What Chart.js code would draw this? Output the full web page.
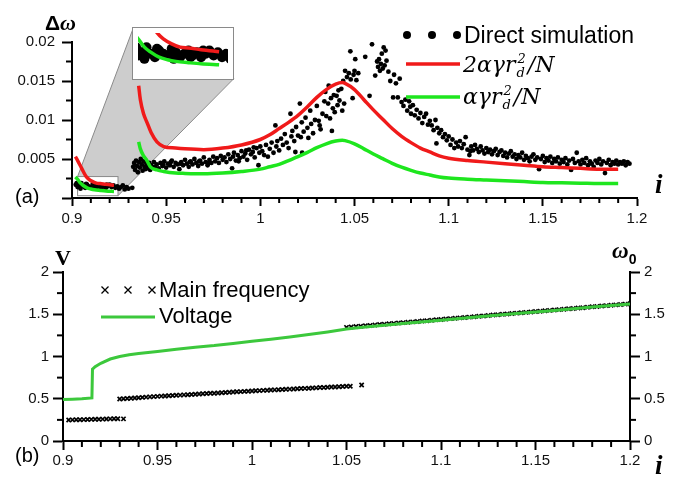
<!DOCTYPE html>
<html>
<head>
<meta charset="utf-8">
<script src="https://cdn.jsdelivr.net/npm/chart.js@4.4.1/dist/chart.umd.min.js"></script>
<style>
  body { margin: 0; background: #fff; }
  #wrap { position: relative; width: 685px; height: 477px; overflow: hidden; }
  canvas { position: absolute; }
  #inset { background: #fff; outline: 1px solid #8a8a8a; }
</style>
</head>
<body>
<div id="wrap">
  <canvas id="top" width="685" height="230" style="left:0;top:0"></canvas>
  <canvas id="bottom" width="685" height="247" style="left:0;top:230px"></canvas>
  <canvas id="inset"></canvas>
</div>
<script>
// tick labels
var iTicks = [0.9, 0.95, 1, 1.05, 1.1, 1.15, 1.2];
var dwTicks = [0, 0.005, 0.01, 0.015, 0.02];
var vTicks = [0, 0.5, 1, 1.5, 2];

// (a) direct simulation, [i, dw]
var simPoints = [
  [0.902,0.0017],[0.9025,0.0019],[0.903,0.0014],[0.904,0.0016],[0.9045,0.0012],[0.905,0.0019],[0.906,0.0015],[0.907,0.0013],
  [0.9075,0.0018],[0.908,0.0017],[0.909,0.0015],[0.910,0.0014],[0.911,0.0018],[0.9115,0.0012],[0.912,0.0016],[0.913,0.0013],
  [0.914,0.0015],[0.915,0.0017],[0.9155,0.0013],[0.916,0.0014],[0.917,0.0016],[0.918,0.0013],[0.9185,0.0017],[0.919,0.0015],
  [0.920,0.0017],[0.921,0.0014],[0.922,0.0016],[0.923,0.0013],[0.924,0.0015],[0.925,0.0012],[0.926,0.0014],[0.927,0.0016],
  [0.928,0.0011],[0.929,0.0014],[0.930,0.0012],[0.932,0.0013],
  [0.9325,0.0040],[0.933,0.0045],[0.9335,0.0036],[0.934,0.0048],[0.9345,0.0041],[0.935,0.0033],[0.9355,0.0046],[0.936,0.0039],
  [0.9365,0.0050],[0.937,0.0043],[0.9375,0.0035],[0.938,0.0047],[0.9385,0.0040],[0.939,0.0037],[0.9395,0.0044],[0.940,0.0041],
  [0.9405,0.0038],[0.941,0.0045],[0.9415,0.0036],[0.942,0.0042],[0.943,0.0039],[0.9435,0.0046],[0.944,0.0040],[0.945,0.0043],
  [0.946,0.0038],[0.947,0.0045],[0.948,0.0041],[0.9485,0.0043],[0.949,0.0047],[0.950,0.0039],[0.951,0.0044],[0.952,0.0042],
  [0.9525,0.0046],[0.953,0.0048],[0.954,0.0040],[0.955,0.0045],[0.956,0.0043],[0.957,0.0037],[0.9575,0.0044],[0.958,0.0046],
  [0.959,0.0042],[0.960,0.0049],[0.961,0.0044],[0.962,0.0040],[0.9625,0.0046],[0.963,0.0047],[0.964,0.0043],[0.965,0.0050],
  [0.966,0.0045],[0.967,0.0041],[0.9675,0.0047],[0.968,0.0048],[0.969,0.0044],[0.970,0.0052],[0.971,0.0046],[0.972,0.0042],
  [0.9725,0.0045],[0.973,0.0049],[0.974,0.0045],[0.975,0.0053],
  [0.976,0.0047],[0.977,0.0051],[0.978,0.0045],[0.979,0.0054],[0.980,0.0049],[0.981,0.0052],[0.982,0.0046],[0.983,0.0056],
  [0.984,0.0050],[0.985,0.0038],[0.9855,0.0053],[0.986,0.0058],[0.987,0.0048],[0.988,0.0055],[0.9885,0.0047],[0.989,0.0051],
  [0.990,0.0060],[0.991,0.0053],[0.992,0.0057],[0.9925,0.0061],[0.993,0.0049],[0.994,0.0062],[0.995,0.0056],[0.996,0.0059],
  [0.9965,0.0065],[0.997,0.0052],[0.998,0.0064],[0.999,0.0042],[0.9995,0.0058],[1.000,0.0066],[1.001,0.0060],[1.002,0.0055],
  [1.003,0.0068],[1.004,0.0053],[1.005,0.0063],[1.006,0.0071],[1.007,0.0058],[1.008,0.0093],[1.0085,0.0066],[1.009,0.0073],
  [1.010,0.0061],
  [1.011,0.0076],[1.012,0.0068],[1.013,0.0082],[1.014,0.0071],[1.015,0.0064],[1.016,0.0108],[1.0165,0.0079],[1.017,0.0086],
  [1.018,0.0073],[1.0186,0.0059],[1.019,0.0091],[1.020,0.0080],[1.021,0.0121],[1.0215,0.0078],[1.022,0.0097],[1.0222,0.0058],
  [1.023,0.0085],[1.024,0.0103],[1.025,0.0090],[1.0255,0.0077],[1.0265,0.0112],[1.027,0.0095],[1.028,0.0083],[1.029,0.0100],
  [1.030,0.0118],[1.031,0.0099],[1.0315,0.0093],[1.032,0.0088],[1.033,0.0108],[1.034,0.0124],[1.0345,0.0136],[1.035,0.0105],
  [1.036,0.0121],[1.0363,0.0144],[1.037,0.0102],[1.0375,0.0128],[1.038,0.0086],[1.0385,0.0115],[1.039,0.0132],[1.0395,0.0110],
  [1.0405,0.0131],[1.041,0.0119],[1.0415,0.0138],[1.042,0.0125],[1.043,0.0140],[1.0435,0.0112],[1.044,0.0150],[1.0445,0.0121],
  [1.045,0.0163],
  [1.046,0.0155],[1.047,0.0160],[1.0478,0.0188],[1.048,0.0152],[1.049,0.0128],[1.0495,0.0158],[1.050,0.0163],[1.0504,0.0178],
  [1.051,0.0151],[1.052,0.0160],[1.0557,0.0181],[1.058,0.0131],[1.0593,0.0197],[1.061,0.0157],[1.062,0.0175],[1.0625,0.0168],
  [1.063,0.0178],[1.0635,0.0163],[1.064,0.0172],[1.0645,0.0185],[1.065,0.0166],[1.0655,0.0193],[1.066,0.0170],[1.0665,0.0189],
  [1.067,0.0176],[1.068,0.0162],[1.069,0.0150],[1.0705,0.0129],[1.071,0.0158],[1.072,0.0147],[1.073,0.0129],[1.074,0.0153],
  [1.075,0.0123],
  [1.076,0.0118],[1.077,0.0126],[1.078,0.0112],[1.079,0.0124],[1.0796,0.0117],[1.080,0.0108],[1.081,0.0119],[1.082,0.0106],
  [1.083,0.0113],[1.084,0.0102],[1.085,0.0109],[1.086,0.0096],[1.087,0.0104],[1.088,0.0108],[1.089,0.0094],[1.090,0.0099],
  [1.091,0.0093],[1.092,0.0087],[1.093,0.0100],[1.0935,0.0070],[1.094,0.0090],[1.095,0.0083],[1.096,0.0087],[1.097,0.0078],
  [1.098,0.0082],[1.099,0.0074],[1.100,0.0079],[1.101,0.0068],[1.102,0.0075],[1.103,0.0064],[1.104,0.0071],[1.105,0.0066],
  [1.106,0.0073],[1.107,0.0064],[1.108,0.0069],[1.109,0.0078],[1.110,0.0062],[1.111,0.0055],[1.1115,0.0060],
  [1.112,0.0066],[1.113,0.0061],[1.114,0.0068],[1.115,0.0063],[1.116,0.0059],[1.117,0.0066],[1.118,0.0061],[1.119,0.0057],
  [1.120,0.0064],[1.121,0.0059],[1.122,0.0062],[1.123,0.0056],[1.124,0.0060],[1.125,0.0063],[1.126,0.0055],[1.127,0.0059],
  [1.128,0.0061],[1.129,0.0054],[1.130,0.0058],[1.131,0.0052],[1.132,0.0057],[1.133,0.0060],[1.134,0.0053],[1.135,0.0056],
  [1.136,0.0050],[1.137,0.0055],[1.138,0.0052],[1.139,0.0058],[1.140,0.0049],[1.141,0.0054],[1.142,0.0051],[1.143,0.0047],
  [1.144,0.0053],[1.145,0.0056],[1.146,0.0049],[1.147,0.0052],[1.148,0.0037],[1.149,0.0050],[1.150,0.0054],[1.151,0.0046],
  [1.152,0.0051],[1.153,0.0048],[1.154,0.0053],[1.155,0.0045],[1.156,0.0050],[1.157,0.0047],[1.158,0.0052],[1.159,0.0044],
  [1.160,0.0049],[1.161,0.0046],[1.162,0.0051],[1.163,0.0043],[1.164,0.0048],[1.165,0.0036],[1.166,0.0050],[1.167,0.0045],
  [1.168,0.0058],[1.169,0.0047],[1.170,0.0043],[1.171,0.0049],[1.172,0.0045],[1.173,0.0051],[1.174,0.0042],[1.175,0.0047],
  [1.176,0.0044],[1.177,0.0040],[1.178,0.0048],[1.179,0.0045],[1.180,0.0050],[1.181,0.0043],[1.182,0.0047],[1.183,0.0032],
  [1.184,0.0045],[1.185,0.0049],[1.186,0.0042],[1.187,0.0046],[1.188,0.0044],[1.189,0.0048],[1.190,0.0043],[1.191,0.0046],
  [1.192,0.0044],[1.193,0.0047],[1.194,0.0042],[1.195,0.0046],[1.196,0.0044]
];

// 2*alpha*gamma*r_d^2/N
var red1 = [[0.9018,0.0053],[0.903,0.0048],[0.9045,0.0041],[0.906,0.0034],[0.9074,0.0028],[0.909,0.0024],[0.911,0.0021],
  [0.913,0.0019],[0.915,0.00185],[0.918,0.00175],[0.9223,0.00163]];
var red2 = [[0.9354,0.0144],[0.9363,0.0126],[0.938,0.0108],[0.9398,0.0097],[0.942,0.0084],[0.9451,0.0072],[0.9487,0.0066],
  [0.955,0.0064],[0.96,0.0063],[0.97,0.0062],[0.98,0.0064],[0.99,0.0068],[1.0,0.0075],[1.005,0.0081],[1.01,0.0089],
  [1.015,0.0097],[1.02,0.0106],[1.025,0.0117],[1.03,0.0129],[1.035,0.0139],[1.04,0.0146],[1.0435,0.0148],[1.045,0.0147],
  [1.05,0.0139],[1.055,0.0126],[1.06,0.0113],[1.065,0.0101],[1.07,0.0089],[1.075,0.0079],[1.08,0.0071],[1.085,0.0064],
  [1.09,0.0059],[1.095,0.0054],[1.1,0.0051],[1.11,0.0048],[1.12,0.0046],[1.13,0.0044],[1.14,0.0042],[1.15,0.0040],
  [1.16,0.0039],[1.17,0.0038],[1.18,0.0037],[1.19,0.0037]];
// alpha*gamma*r_d^2/N
var green1 = [[0.9018,0.0027],[0.903,0.0024],[0.9045,0.0019],[0.906,0.0016],[0.908,0.0013],[0.910,0.00115],[0.912,0.00105],
  [0.915,0.00097],[0.918,0.0009],[0.9223,0.00084]];
var green2 = [[0.9354,0.0072],[0.9363,0.0063],[0.938,0.0054],[0.9398,0.0048],[0.9416,0.0040],[0.9451,0.0036],[0.9487,0.0034],
  [0.955,0.0032],[0.96,0.00315],[0.97,0.0031],[0.98,0.0032],[0.99,0.0034],[1.0,0.0037],[1.005,0.0040],[1.01,0.0043],
  [1.015,0.0048],[1.02,0.0053],[1.025,0.00585],[1.03,0.00645],[1.035,0.00695],[1.04,0.0073],[1.0435,0.0074],[1.045,0.00735],
  [1.05,0.00695],[1.055,0.0063],[1.06,0.00565],[1.065,0.00505],[1.07,0.00445],[1.075,0.00395],[1.08,0.00355],[1.085,0.0032],
  [1.09,0.00295],[1.095,0.0027],[1.1,0.00255],[1.11,0.0024],[1.12,0.0023],[1.13,0.0022],[1.14,0.0021],[1.15,0.0020],
  [1.16,0.00195],[1.17,0.0019],[1.18,0.00185],[1.19,0.00185]];

// (b) main frequency, [i, w0]
var freq1 = [[0.903,0.248],[0.905,0.250],[0.907,0.251],[0.909,0.252],[0.911,0.253],[0.913,0.254],[0.915,0.256],[0.917,0.257],
  [0.919,0.258],[0.921,0.259],[0.923,0.261],[0.925,0.262],[0.927,0.263],[0.929,0.264],[0.932,0.262]];
var freq2 = [[0.930,0.497],[0.932,0.500],[0.934,0.503],[0.936,0.506],[0.938,0.509],[0.940,0.512],[0.942,0.516],[0.944,0.519],
  [0.946,0.522],[0.948,0.525],[0.950,0.528],[0.952,0.531],[0.954,0.533],[0.956,0.536],[0.958,0.538],[0.960,0.541],
  [0.962,0.543],[0.964,0.546],[0.966,0.548],[0.968,0.551],[0.970,0.554],[0.972,0.556],[0.974,0.559],[0.976,0.561],
  [0.978,0.564],[0.980,0.566],[0.982,0.569],[0.984,0.572],[0.986,0.574],[0.988,0.577],[0.990,0.579],[0.992,0.582],
  [0.994,0.584],[0.996,0.587],[0.998,0.589],[1.000,0.592],[1.002,0.594],[1.004,0.596],[1.006,0.599],[1.008,0.601],
  [1.010,0.603],[1.012,0.605],[1.014,0.607],[1.016,0.610],[1.018,0.612],[1.020,0.614],[1.022,0.616],[1.024,0.618],
  [1.026,0.621],[1.028,0.623],[1.030,0.625],[1.032,0.627],[1.034,0.629],[1.036,0.632],[1.038,0.634],[1.040,0.636],
  [1.042,0.638],[1.044,0.640],[1.046,0.643],[1.048,0.645],[1.050,0.647],[1.052,0.649],[1.058,0.662]];
var freq3 = [[1.0500,1.345],[1.0525,1.350],[1.0550,1.354],[1.0575,1.359],[1.0600,1.364],[1.0625,1.368],[1.0650,1.373],
  [1.0675,1.378],[1.0700,1.382],[1.0725,1.387],[1.0750,1.392],[1.0775,1.396],[1.0800,1.401],[1.0825,1.406],[1.0850,1.410],
  [1.0875,1.415],[1.0900,1.420],[1.0925,1.424],[1.0950,1.429],[1.0975,1.434],[1.1000,1.438],[1.1025,1.443],[1.1050,1.448],
  [1.1075,1.452],[1.1100,1.457],[1.1125,1.462],[1.1150,1.466],[1.1175,1.471],[1.1200,1.476],[1.1225,1.480],[1.1250,1.485],
  [1.1275,1.490],[1.1300,1.494],[1.1325,1.499],[1.1350,1.504],[1.1375,1.508],[1.1400,1.513],[1.1425,1.518],[1.1450,1.522],
  [1.1475,1.527],[1.1500,1.532],[1.1525,1.536],[1.1550,1.541],[1.1575,1.546],[1.1600,1.550],[1.1625,1.555],[1.1650,1.560],
  [1.1675,1.564],[1.1700,1.569],[1.1725,1.574],[1.1750,1.578],[1.1775,1.583],[1.1800,1.588],[1.1825,1.592],[1.1850,1.597],
  [1.1875,1.602],[1.1900,1.606],[1.1925,1.611],[1.1950,1.616],[1.1975,1.620],[1.2000,1.625]];
// voltage, [i, V]
var voltage = [[0.9,0.49],[0.905,0.495],[0.91,0.50],[0.9153,0.51],[0.9156,0.85],[0.917,0.88],[0.92,0.92],[0.925,0.97],
  [0.93,1.0],[0.935,1.02],[0.94,1.035],[0.95,1.06],[0.96,1.085],[0.97,1.11],[0.98,1.13],[0.99,1.155],[1.0,1.18],
  [1.01,1.205],[1.02,1.23],[1.03,1.26],[1.04,1.29],[1.05,1.325],[1.06,1.35],[1.08,1.39],[1.1,1.43],[1.12,1.47],
  [1.14,1.51],[1.16,1.545],[1.18,1.585],[1.2,1.62]];

// zoomed region and where its enlarged copy sits, in (a) data units
var zoomBox = {x0: 0.90297, x1: 0.92442, y0: 0.000293, y1: 0.002748};
var insetBox = {x0: 0.93255, x1: 0.98591, y0: 0.015305, y1: 0.021794};

var RED = '#f01a1a', GREEN = '#1ee61e', GREEN_B = '#3cc83c';
var SANS = "'Liberation Sans', Arial, sans-serif";
var SERIF = "'Liberation Serif', 'Times New Roman', serif";
var tickFont = {family: SANS, size: 15};

function pts(a) { return a.map(function (p) { return {x: p[0], y: p[1]}; }); }
function fmt(v) { return String(parseFloat(v.toFixed(4))); }

function axis(pos, list, len, pad, size, hideZero) {
  var o = {
    type: 'linear', position: pos,
    min: list[0], max: list[list.length - 1],
    afterBuildTicks: function (s) { s.ticks = list.map(function (v) { return {value: v}; }); },
    grid: {drawOnChartArea: false, drawTicks: true, tickLength: len, tickWidth: 2, tickColor: '#000', color: '#000'},
    border: {display: true, color: '#000', width: 2},
    ticks: {font: tickFont, color: '#111', padding: pad, maxRotation: 0, autoSkip: false,
      callback: function (v) { return (hideZero && v === 0) ? '' : fmt(v); }}
  };
  if (pos === 'bottom') o.afterFit = function (s) { s.height = size; };
  else o.afterFit = function (s) { s.width = size; };
  return o;
}

function minorTicks(list) {
  return {id: 'minorTicks', afterDraw: function (chart) {
    var ctx = chart.ctx;
    ctx.save(); ctx.strokeStyle = '#000'; ctx.lineWidth = 2;
    list.forEach(function (m) {
      var s = chart.scales[m.id];
      var n = Math.round((s.max - s.min) / m.step);
      for (var k = 0; k <= n; k++) {
        if (k % m.every === 0) continue;
        var p = s.getPixelForValue(s.min + k * m.step);
        ctx.beginPath();
        if (s.position === 'bottom') { ctx.moveTo(p, s.top); ctx.lineTo(p, s.top + m.len); }
        else if (s.position === 'left') { ctx.moveTo(s.right, p); ctx.lineTo(s.right - m.len, p); }
        else { ctx.moveTo(s.left, p); ctx.lineTo(s.left + m.len, p); }
        ctx.stroke();
      }
    });
    ctx.restore();
  }};
}

function txt(ctx, s, x, y, font, align) {
  ctx.font = font; ctx.textAlign = align || 'left'; ctx.textBaseline = 'alphabetic';
  ctx.fillStyle = '#000'; ctx.fillText(s, x, y);
  return ctx.measureText(s).width;
}

function formula(ctx, lead, x, y) {
  var f = "italic 22px 'DejaVu Serif'", fs = "italic 13px 'DejaVu Serif'";
  x += txt(ctx, lead + 'r', x, y, f);
  var w1 = txt(ctx, 'd', x + 1, y + 5, fs);
  var w2 = txt(ctx, '2', x + 2, y - 9, fs);
  x += Math.max(w1, w2 + 1) + 3;
  txt(ctx, '/N', x, y, f);
}

function lineSet(data, color, width, order) {
  return {type: 'line', data: pts(data), borderColor: color, borderWidth: width, pointRadius: 0,
    fill: false, cubicInterpolationMode: 'monotone', order: order};
}

var common = {
  responsive: false, animation: false, events: [],
  plugins: {legend: {display: false}, tooltip: {enabled: false}}
};

// ---------- (a) ----------
var topChart = new Chart(document.getElementById('top'), {
  type: 'scatter',
  data: {datasets: [
    {label: 'Direct simulation', data: pts(simPoints), pointRadius: 2.4, pointBackgroundColor: '#000',
      pointBorderColor: '#000', pointBorderWidth: 0, order: 3},
    lineSet(red1, RED, 3.5, 2), lineSet(red2, RED, 3.5, 2),
    lineSet(green1, GREEN, 3.5, 1), lineSet(green2, GREEN, 3.5, 1)
  ]},
  options: Object.assign({}, common, {
    layout: {padding: {left: 0, right: 48, top: 42, bottom: 0}},
    scales: {
      x: axis('bottom', iTicks, 8, 4, 32, false),
      y: axis('left', dwTicks, 10, 7, 72, true)
    }
  }),
  plugins: [minorTicks([{id: 'x', step: 0.01, every: 5, len: 5}, {id: 'y', step: 0.0025, every: 2, len: 6}]), {
    id: 'zoomShade',
    beforeDatasetsDraw: function (chart) {
      var xs = chart.scales.x, ys = chart.scales.y, ctx = chart.ctx;
      var zx0 = xs.getPixelForValue(zoomBox.x0), zx1 = xs.getPixelForValue(zoomBox.x1);
      var zy0 = ys.getPixelForValue(zoomBox.y0), zy1 = ys.getPixelForValue(zoomBox.y1);
      var ix0 = xs.getPixelForValue(insetBox.x0), ix1 = xs.getPixelForValue(insetBox.x1);
      var iy0 = ys.getPixelForValue(insetBox.y0), iy1 = ys.getPixelForValue(insetBox.y1);
      ctx.save();
      ctx.beginPath();
      ctx.moveTo(ix0, iy1); ctx.lineTo(zx0, zy1); ctx.lineTo(zx0, zy0); ctx.lineTo(zx1, zy0);
      ctx.lineTo(ix1, iy0); ctx.lineTo(ix1, iy1); ctx.closePath();
      ctx.rect(zx0, zy1, zx1 - zx0, zy0 - zy1);
      ctx.fillStyle = '#cdcdcd'; ctx.fill('evenodd');
      ctx.strokeStyle = '#8a8a8a'; ctx.lineWidth = 1;
      ctx.beginPath(); ctx.moveTo(ix0, iy1); ctx.lineTo(zx0, zy1); ctx.stroke();
      ctx.beginPath(); ctx.moveTo(ix1, iy0); ctx.lineTo(zx1, zy0); ctx.stroke();
      ctx.strokeRect(zx0, zy1, zx1 - zx0, zy0 - zy1);
      ctx.restore();
    },
    afterDraw: function (chart) {
      var ctx = chart.ctx;
      var w = txt(ctx, '\u0394', 45, 30, 'bold 21px ' + SANS);
      txt(ctx, '\u03c9', 45 + w, 30, 'italic bold 22px ' + SERIF);
      txt(ctx, '(a)', 15, 203, '20px ' + SANS);
      txt(ctx, 'i', 655, 193, 'italic bold 27px ' + SERIF);
      // legend
      ctx.fillStyle = '#000';
      [407, 432, 457].forEach(function (x) { ctx.beginPath(); ctx.arc(x, 35, 4, 0, Math.PI * 2); ctx.fill(); });
      txt(ctx, 'Direct simulation', 464, 43, '23px ' + SANS);
      ctx.lineWidth = 3.5;
      ctx.strokeStyle = RED; ctx.beginPath(); ctx.moveTo(406, 64); ctx.lineTo(460, 64); ctx.stroke();
      ctx.strokeStyle = GREEN; ctx.beginPath(); ctx.moveTo(406, 97); ctx.lineTo(460, 97); ctx.stroke();
      formula(ctx, '2\u03b1\u03b3', 463, 72);
      formula(ctx, '\u03b1\u03b3', 463, 104);
    }
  }]
});

// enlarged copy of the zoomed region
(function () {
  var xs = topChart.scales.x, ys = topChart.scales.y;
  var L = xs.getPixelForValue(insetBox.x0), R = xs.getPixelForValue(insetBox.x1);
  var T = ys.getPixelForValue(insetBox.y1), B = ys.getPixelForValue(insetBox.y0);
  var c = document.getElementById('inset');
  c.width = Math.round(R - L); c.height = Math.round(B - T);
  c.style.left = Math.round(L) + 'px'; c.style.top = Math.round(T) + 'px';
  new Chart(c, {
    type: 'scatter',
    data: {datasets: [
      {data: pts(simPoints), pointRadius: 5, pointBackgroundColor: '#000', pointBorderColor: '#000',
        pointBorderWidth: 0, order: 3},
      lineSet(red1, RED, 3.5, 2), lineSet(green1, GREEN, 3.5, 1)
    ]},
    options: Object.assign({}, common, {
      layout: {padding: 0},
      scales: {
        x: {type: 'linear', display: false, min: zoomBox.x0, max: zoomBox.x1},
        y: {type: 'linear', display: false, min: zoomBox.y0, max: zoomBox.y1}
      }
    })
  });
})();

// ---------- (b) ----------
new Chart(document.getElementById('bottom'), {
  type: 'scatter',
  data: {datasets: [
    {label: 'Main frequency', data: pts(freq1.concat(freq2, freq3)), pointStyle: 'crossRot', pointRadius: 3,
      pointBorderColor: '#000', pointBorderWidth: 1.7, order: 2},
    {type: 'line', label: 'Voltage', data: pts(voltage), borderColor: GREEN_B, borderWidth: 3, pointRadius: 0,
      fill: false, tension: 0, order: 1}
  ]},
  options: Object.assign({}, common, {
    layout: {padding: {left: 0, right: 0, top: 42, bottom: 0}},
    scales: {
      x: axis('bottom', iTicks, 9, 2, 36, false),
      y: axis('left', vTicks, 10, 4, 63, false),
      y2: axis('right', vTicks, 10, 4, 55, false)
    }
  }),
  plugins: [minorTicks([{id: 'x', step: 0.01, every: 5, len: 6}, {id: 'y', step: 0.25, every: 2, len: 6},
    {id: 'y2', step: 0.25, every: 2, len: 6}]), {
    id: 'labelsB',
    afterDraw: function (chart) {
      var ctx = chart.ctx;
      txt(ctx, 'V', 55, 35, 'bold 22px ' + SERIF);
      var w = txt(ctx, '\u03c9', 612, 28, 'italic bold 23px ' + SERIF);
      txt(ctx, '0', 612 + w, 34, 'bold 14px ' + SANS);
      txt(ctx, 'i', 655, 244, 'italic bold 27px ' + SERIF);
      txt(ctx, '(b)', 15, 232, '20px ' + SANS);
      // legend
      ctx.strokeStyle = '#000'; ctx.lineWidth = 1.3;
      [105, 128, 152].forEach(function (x) {
        ctx.beginPath(); ctx.moveTo(x - 3.5, 56.5); ctx.lineTo(x + 3.5, 63.5);
        ctx.moveTo(x + 3.5, 56.5); ctx.lineTo(x - 3.5, 63.5); ctx.stroke();
      });
      txt(ctx, 'Main frequency', 159, 67, '22px ' + SANS);
      ctx.strokeStyle = GREEN_B; ctx.lineWidth = 3;
      ctx.beginPath(); ctx.moveTo(101, 87); ctx.lineTo(155, 87); ctx.stroke();
      txt(ctx, 'Voltage', 159, 93, '22px ' + SANS);
    }
  }]
});
</script>
</body>
</html>
